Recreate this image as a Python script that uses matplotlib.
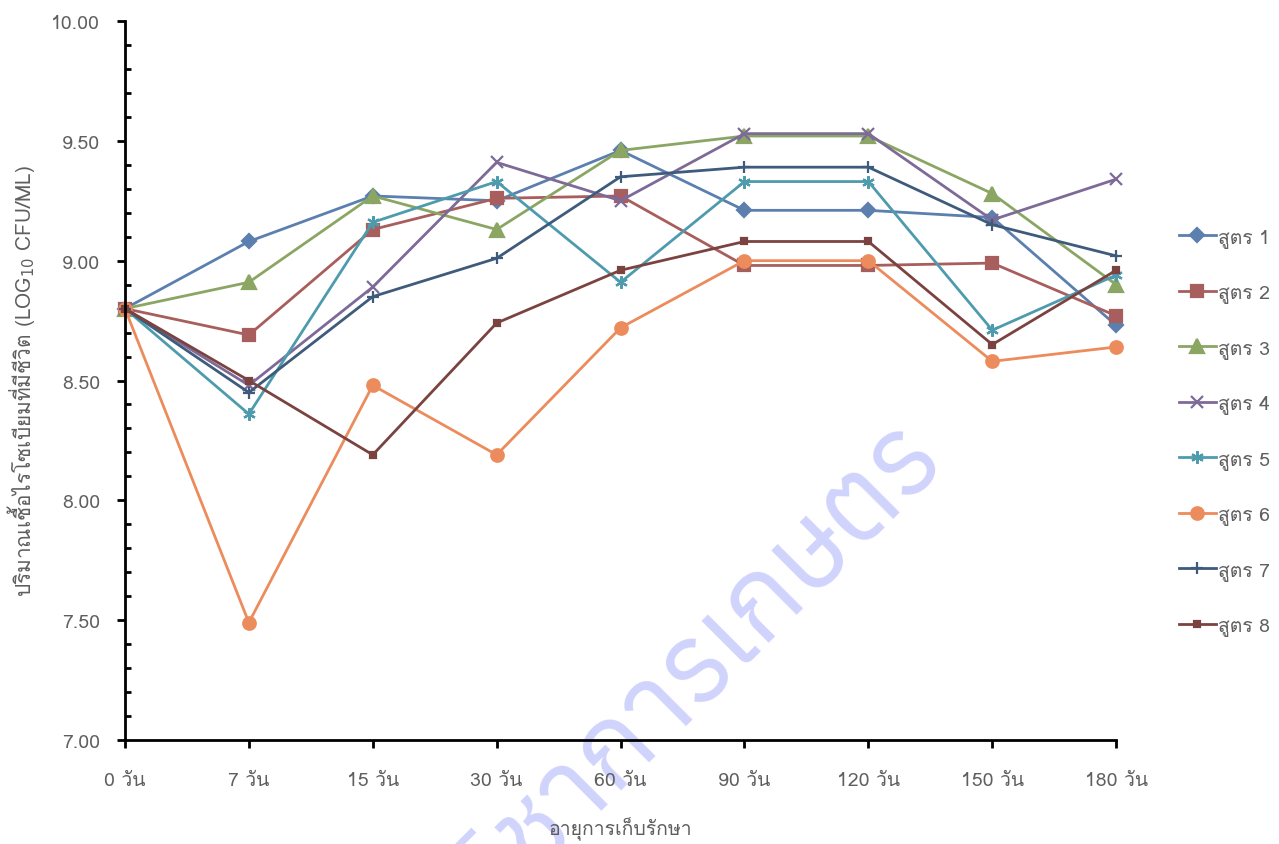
import numpy as np
import matplotlib
matplotlib.use('Agg')
import matplotlib.pyplot as plt
from matplotlib import font_manager
from matplotlib.ft2font import FT2Font
from matplotlib.ticker import MultipleLocator, FormatStrFormatter

# families that can draw Thai
thai_fams = []
for f in font_manager.fontManager.ttflist:
    try:
        cm = FT2Font(f.fname).get_charmap()
    except Exception:
        continue
    if 0x0E01 in cm and f.name not in thai_fams:
        thai_fams.append(f.name)

def pick(prefs):
    for p in prefs:
        if p in thai_fams:
            return p
    return thai_fams[0] if thai_fams else 'DejaVu Sans'

fam = pick(['Loma', 'Tahoma', 'Leelawadee UI', 'Noto Sans Thai'])
wm_fam = pick(['Anuphan', 'Kanit', 'Prompt', 'Noto Sans Thai'])
plt.rcParams['font.family'] = [fam, 'DejaVu Sans']

days = ['0 วัน', '7 วัน', '15 วัน', '30 วัน', '60 วัน', '90 วัน', '120 วัน', '150 วัน', '180 วัน']
names = ['สูตร 1', 'สูตร 2', 'สูตร 3', 'สูตร 4', 'สูตร 5', 'สูตร 6', 'สูตร 7', 'สูตร 8']

s1 = [8.80, 9.08, 9.27, 9.25, 9.46, 9.21, 9.21, 9.18, 8.73]
s2 = [8.80, 8.69, 9.13, 9.26, 9.27, 8.98, 8.98, 8.99, 8.77]
s3 = [8.80, 8.91, 9.27, 9.13, 9.46, 9.52, 9.52, 9.28, 8.90]
s4 = [8.80, 8.48, 8.89, 9.41, 9.25, 9.53, 9.53, 9.17, 9.34]
s5 = [8.80, 8.36, 9.16, 9.33, 8.91, 9.33, 9.33, 8.71, 8.94]
s6 = [8.80, 7.49, 8.48, 8.19, 8.72, 9.00, 9.00, 8.58, 8.64]
s7 = [8.80, 8.45, 8.85, 9.01, 9.35, 9.39, 9.39, 9.15, 9.02]
s8 = [8.80, 8.50, 8.19, 8.74, 8.96, 9.08, 9.08, 8.65, 8.96]
series = [s1, s2, s3, s4, s5, s6, s7, s8]

colors = ['#5B7FAE', '#A85E5C', '#8BA663', '#7D6A98', '#4E9BAE', '#EC8B5B', '#3F5B7B', '#7B4340']
markers = ['D', 's', '^', 'x', (6, 2, 0), 'o', '+', 's']
msizes = [7.5, 9, 9.5, 9, 9, 9, 9, 5]

grey = '#5F5F5F'

fig = plt.figure(figsize=(12.79, 8.45), dpi=100, facecolor='white')
ax = fig.add_axes([0.0977, 0.123, 0.775, 0.851])
ax.patch.set_visible(False)

x = np.arange(len(days))
for ys, c, m, ms, nm in zip(series, colors, markers, msizes, names):
    ax.plot(x, ys, color=c, lw=2.0, marker=m, ms=ms, mew=1.6, label=nm, clip_on=False)

ax.set_xlim(0, 8)
ax.set_ylim(7, 10)
ax.set_xticks(x)
ax.set_xticklabels(days)
ax.yaxis.set_major_locator(MultipleLocator(0.5))
ax.yaxis.set_minor_locator(MultipleLocator(0.1))
ax.yaxis.set_major_formatter(FormatStrFormatter('%.2f'))

for s in ['top', 'right']:
    ax.spines[s].set_visible(False)
for s in ['left', 'bottom']:
    ax.spines[s].set_linewidth(2)
ax.tick_params(axis='both', which='major', length=6, width=2, colors='black',
               labelcolor=grey, labelsize=14, direction='out')
ax.tick_params(axis='y', which='minor', length=4, width=2, direction='in')
ax.tick_params(axis='y', which='major', pad=12)
ax.tick_params(axis='x', pad=16)

ax.set_ylabel('ปริมาณเชื้อไรโซเบียมที่มีชีวิต (LOG$_{10}$ CFU/ML)', color=grey, fontsize=15, labelpad=10)
ax.set_xlabel('อายุการเก็บรักษา', color=grey, fontsize=14, labelpad=20)

ax.legend(loc='center left', bbox_to_anchor=(0.908, 0.488), bbox_transform=fig.transFigure,
          frameon=False, fontsize=14, labelspacing=1.88, handlelength=1.9, handletextpad=0.1,
          labelcolor=grey)

# watermark
fig.text(0.739, 0.456, 'กรมวิชาการเกษตร', family=wm_fam, fontsize=80, color='#D0D3FB', rotation=45,
         rotation_mode='anchor', ha='right', va='baseline', zorder=-1)

fig.savefig('out.png', dpi=100)
